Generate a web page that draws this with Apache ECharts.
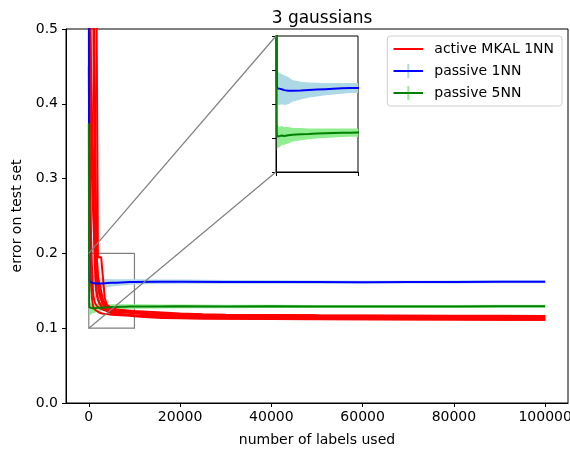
<!DOCTYPE html>
<html>
<head>
<meta charset="utf-8">
<script src="https://cdn.jsdelivr.net/npm/echarts@6/dist/echarts.min.js"></script>
<style>
  html, body { margin: 0; padding: 0; background: #fff; }
  #main { width: 570px; height: 450px; }
</style>
</head>
<body>
<div id="main"></div>
<script>
  // x positions (number of labels used)
  var xRed = [0, 150, 300, 500, 700, 900, 1100, 1300, 1500, 1700, 2000, 2300, 2700, 3000, 3500, 4000,
    5000, 6000, 8000, 10000, 13000, 16000, 20000, 25000, 30000, 40000, 50000, 60000, 70000, 80000, 90000, 100000];
  var xPassive = [0, 50, 100, 200, 400, 700, 1000, 1500, 2000, 3000, 4000, 5000, 6000, 7000, 8000, 9000,
    10000, 15000, 20000, 30000, 40000, 50000, 60000, 70000, 80000, 90000, 100000];

  // active MKAL 1NN, one array per run
  var runA = [0.66, 0.64, 0.62, 0.60, 0.60, 0.58, 0.57, 0.56, 0.55, 0.52, 0.195, 0.195, 0.195, 0.194, 0.14, 0.131,
    0.127, 0.125, 0.123, 0.121, 0.120, 0.119, 0.118, 0.1175, 0.117, 0.1168, 0.1165, 0.1163, 0.116, 0.116, 0.1158, 0.1157];
  var runB = [0.70, 0.60, 0.58, 0.56, 0.55, 0.54, 0.53, 0.45, 0.30, 0.20, 0.16, 0.145, 0.138, 0.134, 0.130, 0.128,
    0.125, 0.123, 0.121, 0.120, 0.118, 0.117, 0.1165, 0.116, 0.1155, 0.1152, 0.115, 0.1148, 0.1145, 0.1142, 0.114, 0.1138];
  var runC = [0.60, 0.55, 0.52, 0.45, 0.38, 0.30, 0.26, 0.22, 0.17, 0.15, 0.14, 0.135, 0.130, 0.128, 0.126, 0.124,
    0.123, 0.122, 0.121, 0.1205, 0.1195, 0.119, 0.1185, 0.118, 0.1178, 0.1175, 0.1172, 0.117, 0.1168, 0.1166, 0.1165, 0.1163];
  var runD = [0.55, 0.40, 0.30, 0.22, 0.18, 0.15, 0.14, 0.135, 0.132, 0.130, 0.128, 0.127, 0.126, 0.125, 0.124, 0.123,
    0.121, 0.120, 0.118, 0.117, 0.1155, 0.1145, 0.114, 0.1135, 0.113, 0.1126, 0.1123, 0.112, 0.1118, 0.1116, 0.1115, 0.1114];
  var runE = [0.65, 0.62, 0.50, 0.42, 0.35, 0.33, 0.25, 0.19, 0.16, 0.145, 0.138, 0.133, 0.130, 0.127, 0.125, 0.123,
    0.120, 0.119, 0.118, 0.117, 0.116, 0.1155, 0.115, 0.1148, 0.1145, 0.1142, 0.114, 0.1138, 0.1135, 0.1135, 0.1132, 0.113];
  var runF = [0.45, 0.30, 0.20, 0.16, 0.14, 0.13, 0.127, 0.125, 0.124, 0.123, 0.122, 0.121, 0.120, 0.120, 0.119, 0.119,
    0.118, 0.1175, 0.117, 0.1165, 0.1155, 0.115, 0.1145, 0.114, 0.1135, 0.113, 0.1128, 0.1125, 0.1123, 0.1122, 0.112, 0.112];
  var runG = [0.68, 0.66, 0.64, 0.63, 0.62, 0.60, 0.42, 0.30, 0.24, 0.20, 0.17, 0.16, 0.15, 0.14, 0.133, 0.130,
    0.127, 0.125, 0.124, 0.123, 0.122, 0.121, 0.1195, 0.1185, 0.118, 0.1175, 0.117, 0.1168, 0.1165, 0.1162, 0.116, 0.1158];
  var runH = [0.58, 0.50, 0.44, 0.36, 0.30, 0.26, 0.23, 0.20, 0.18, 0.17, 0.16, 0.15, 0.14, 0.133, 0.128, 0.125,
    0.122, 0.120, 0.118, 0.116, 0.1145, 0.1138, 0.1132, 0.1128, 0.1125, 0.1122, 0.112, 0.1118, 0.1116, 0.1115, 0.1114, 0.1112];
  var redRuns = [runA, runB, runC, runD, runE, runF, runG, runH];

  // passive 1NN / 5NN: mean and error band half width
  var blueMean = [0.62, 0.30, 0.163, 0.1615, 0.1612, 0.1608, 0.1602, 0.1598, 0.1597, 0.1599, 0.1603, 0.1606, 0.1609, 0.1612,
    0.1615, 0.1617, 0.1618, 0.1620, 0.1622, 0.1619, 0.1618, 0.1616, 0.1615, 0.1616, 0.1617, 0.1620, 0.1620];
  var blueErr = [0.05, 0.03, 0.013, 0.012, 0.012, 0.011, 0.011, 0.010, 0.008, 0.0065, 0.0055, 0.005, 0.0045, 0.0042,
    0.004, 0.0037, 0.0035, 0.003, 0.0028, 0.0025, 0.0023, 0.0022, 0.0021, 0.002, 0.002, 0.002, 0.002];
  var greenMean = [0.374, 0.20, 0.128, 0.126, 0.1255, 0.1268, 0.1265, 0.1270, 0.1274, 0.1278, 0.1280, 0.1283, 0.1285, 0.1287,
    0.1288, 0.1289, 0.1290, 0.1290, 0.1292, 0.1290, 0.1292, 0.1290, 0.1291, 0.1290, 0.1290, 0.1292, 0.1293];
  var greenErr = [0.03, 0.02, 0.012, 0.008, 0.0075, 0.007, 0.0065, 0.006, 0.005, 0.0045, 0.004, 0.0037, 0.0035, 0.0033,
    0.0031, 0.003, 0.003, 0.0027, 0.0025, 0.0023, 0.0022, 0.002, 0.002, 0.002, 0.002, 0.002, 0.002];

  var xTicks = [0, 20000, 40000, 60000, 80000, 100000];
  var insetX = [0, 10000];
  var insetY = [0.1, 0.125, 0.15, 0.175, 0.2];

  var chart = echarts.init(document.getElementById('main'));
  var font = 'DejaVu Sans';

  function pairs(xs, ys) {
    return xs.map(function (x, i) { return [x, ys[i]]; });
  }

  // error band as one polygon through the axes scales
  function band(name, axis, mean, err, color) {
    var data = xPassive.map(function (x, i) { return [x, mean[i] - err[i], mean[i] + err[i]]; });
    return {
      type: 'custom', name: name, xAxisIndex: axis, yAxisIndex: axis,
      data: data, silent: true, z: 2,
      renderItem: function (params, api) {
        if (params.dataIndex !== 0) return null;
        var top = [], bottom = [];
        for (var i = 0; i < data.length; i++) {
          top.push(api.coord([data[i][0], data[i][2]]));
          bottom.unshift(api.coord([data[i][0], data[i][1]]));
        }
        var pts = echarts.graphic.clipPointsByRect(top.concat(bottom), params.coordSys);
        return { type: 'polygon', shape: { points: pts }, style: { fill: color } };
      }
    };
  }

  function legendIcon(color, barColor) {
    var svg = '<svg xmlns="http://www.w3.org/2000/svg" width="30" height="14">' +
      (barColor ? '<line x1="15" y1="0" x2="15" y2="14" stroke="' + barColor + '" stroke-width="2"/>' : '') +
      '<line x1="0" y1="7" x2="30" y2="7" stroke="' + color + '" stroke-width="2"/></svg>';
    return 'image://data:image/svg+xml;charset=utf-8,' + encodeURIComponent(svg);
  }

  var series = [];
  redRuns.forEach(function (run, k) {
    series.push({
      type: 'line', name: 'active MKAL 1NN', xAxisIndex: 0, yAxisIndex: 0,
      data: pairs(xRed, run), showSymbol: false, z: 3,
      lineStyle: { color: '#ff0000', width: 2 }, itemStyle: { color: '#ff0000' },
      markArea: k === 0 ? {
        silent: true,
        itemStyle: { color: 'rgba(0,0,0,0)', borderColor: '#808080', borderWidth: 1.2 },
        data: [[{ coord: [insetX[0], insetY[0]] }, { coord: [insetX[1], insetY[4]] }]]
      } : undefined
    });
  });
  [0, 1].forEach(function (ax) {
    series.push(band('blue band', ax, blueMean, blueErr, '#add8e6'));
    series.push({
      type: 'line', name: 'passive 1NN', xAxisIndex: ax, yAxisIndex: ax,
      data: pairs(xPassive, blueMean), showSymbol: false, z: 4,
      lineStyle: { color: '#0000ff', width: 2 }, itemStyle: { color: '#0000ff' }
    });
    series.push(band('green band', ax, greenMean, greenErr, '#90ee90'));
    series.push({
      type: 'line', name: 'passive 5NN', xAxisIndex: ax, yAxisIndex: ax,
      data: pairs(xPassive, greenMean), showSymbol: false, z: 5,
      lineStyle: { color: '#008000', width: 2 }, itemStyle: { color: '#008000' }
    });
  });

  var axisText = { color: '#000', fontFamily: font, fontSize: 14 };

  chart.setOption({
    animation: false,
    backgroundColor: '#fff',
    title: {
      text: '3 gaussians', left: 317, top: 5, textAlign: 'center',
      textStyle: { fontFamily: font, fontSize: 17, fontWeight: 'normal', color: '#000' }
    },
    legend: {
      orient: 'vertical', right: 8, top: 36,
      padding: [6, 8, 6, 6], itemGap: 8, itemWidth: 30, itemHeight: 14,
      borderColor: '#d0d0d0', borderWidth: 1, borderRadius: 3, backgroundColor: '#fff',
      textStyle: { fontFamily: font, fontSize: 14, color: '#000', padding: [0, 0, 0, 6] },
      data: [
        { name: 'active MKAL 1NN', icon: legendIcon('#ff0000') },
        { name: 'passive 1NN', icon: legendIcon('#0000ff', '#add8e6') },
        { name: 'passive 5NN', icon: legendIcon('#008000', '#90ee90') }
      ]
    },
    grid: [
      { left: 66, right: 2, top: 29, bottom: 47, outerBoundsMode: 'none', containLabel: false,
        show: true, borderColor: '#000', borderWidth: 1, backgroundColor: 'rgba(0,0,0,0)' },
      { left: 276, top: 36, width: 82, height: 136, outerBoundsMode: 'none', containLabel: false,
        show: true, borderColor: '#000', borderWidth: 1, backgroundColor: '#fff' }
    ],
    xAxis: [
      {
        type: 'value', gridIndex: 0, min: -5000, max: 105000,
        name: 'number of labels used', nameLocation: 'middle', nameGap: 30,
        nameTextStyle: axisText,
        axisLine: { onZero: false, lineStyle: { color: '#000' } },
        axisTick: { length: 4, lineStyle: { color: '#000' }, customValues: xTicks },
        axisLabel: Object.assign({ margin: 7, customValues: xTicks, hideOverlap: false,
          formatter: function (v) { return String(v); } }, axisText),
        splitLine: { show: false }
      },
      {
        type: 'value', gridIndex: 1, min: 0, max: 10000,
        axisLine: { onZero: false, lineStyle: { color: '#000' } },
        axisTick: { length: 4, lineStyle: { color: '#000' }, customValues: insetX },
        axisLabel: { show: false },
        splitLine: { show: false }
      }
    ],
    yAxis: [
      {
        type: 'value', gridIndex: 0, min: 0, max: 0.5, interval: 0.1,
        name: 'error on test set', nameLocation: 'middle', nameGap: 38, nameRotate: 90,
        nameTextStyle: axisText,
        axisLine: { show: true, onZero: false, lineStyle: { color: '#000' } },
        axisTick: { show: true, length: 4, lineStyle: { color: '#000' } },
        axisLabel: Object.assign({ margin: 8, formatter: function (v) { return v.toFixed(1); } }, axisText),
        splitLine: { show: false }
      },
      {
        type: 'value', gridIndex: 1, min: 0.1, max: 0.2,
        axisLine: { show: true, onZero: false, lineStyle: { color: '#000' } },
        axisTick: { show: true, length: 4, lineStyle: { color: '#000' }, customValues: insetY },
        axisLabel: { show: false },
        splitLine: { show: false }
      }
    ],
    series: series
  });

  // connector lines from the zoom box to the inset corners
  var a1 = chart.convertToPixel({ xAxisIndex: 0, yAxisIndex: 0 }, [insetX[0], insetY[4]]);
  var a2 = chart.convertToPixel({ xAxisIndex: 0, yAxisIndex: 0 }, [insetX[0], insetY[0]]);
  var b1 = chart.convertToPixel({ xAxisIndex: 1, yAxisIndex: 1 }, [insetX[0], insetY[4]]);
  var b2 = chart.convertToPixel({ xAxisIndex: 1, yAxisIndex: 1 }, [insetX[0], insetY[0]]);
  chart.setOption({
    graphic: [
      { type: 'line', z: 100, silent: true, shape: { x1: a1[0], y1: a1[1], x2: b1[0], y2: b1[1] }, style: { stroke: '#808080', lineWidth: 1.2 } },
      { type: 'line', z: 100, silent: true, shape: { x1: a2[0], y1: a2[1], x2: b2[0], y2: b2[1] }, style: { stroke: '#808080', lineWidth: 1.2 } }
    ]
  });
</script>
</body>
</html>
